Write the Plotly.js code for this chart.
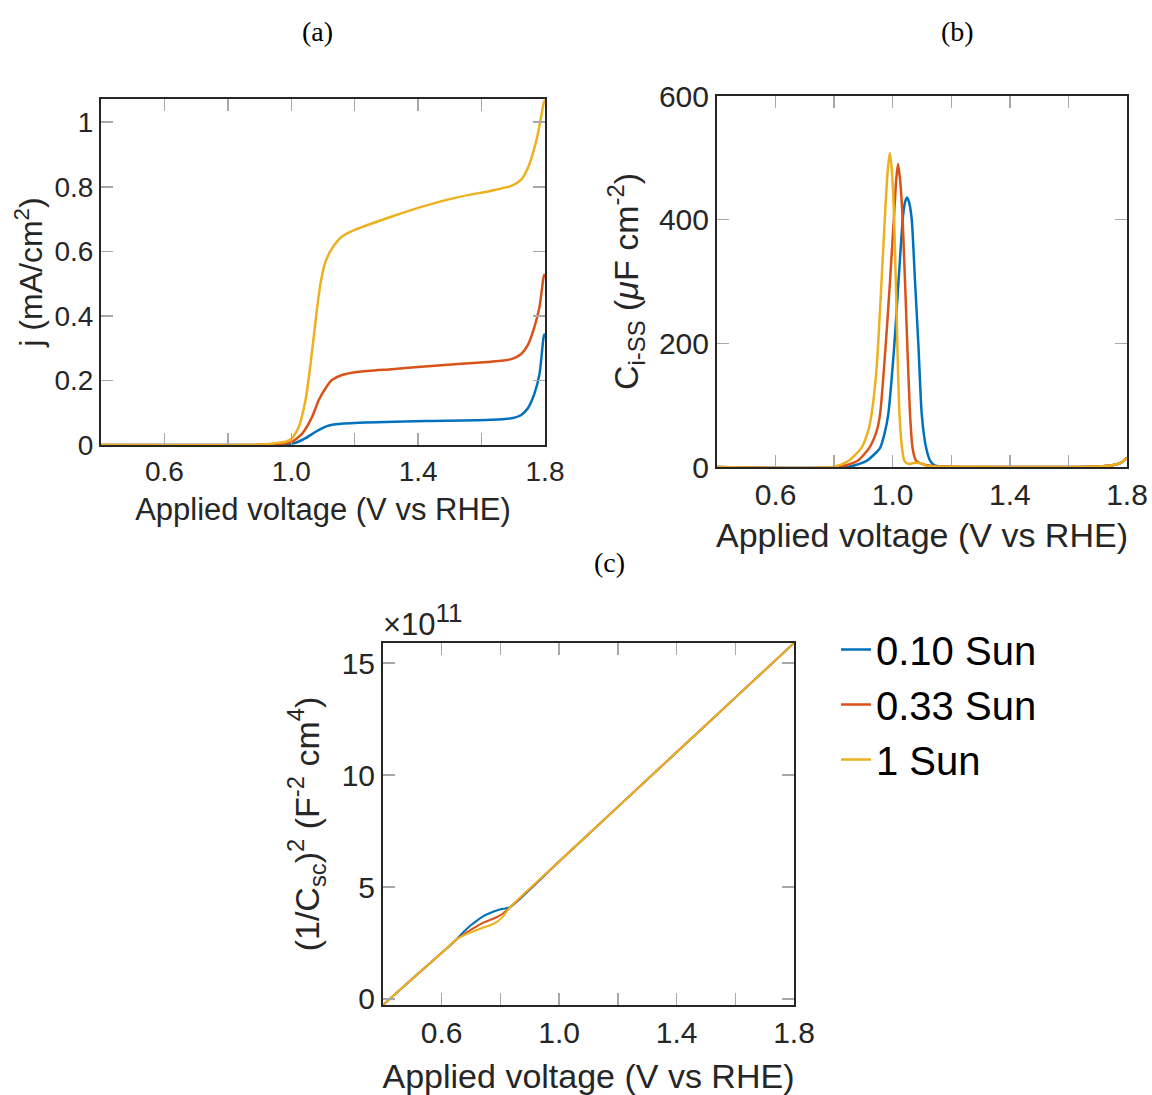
<!DOCTYPE html>
<html><head><meta charset="utf-8">
<script src="https://cdn.plot.ly/plotly-3.0.1.min.js"></script>
<style>body{margin:0;background:#fff;} #plot{width:1152px;height:1095px;}</style>
</head><body><div id="plot"></div>
<script>
// ---- series meta ----
const seriesNames = ['0.10 Sun', '0.33 Sun', '1 Sun'];
const seriesColors = ['#0072BD', '#D95319', '#EDB120'];

// ---- panel (a): j (mA/cm2) vs applied voltage ----
const aX_010 = [0.40, 0.90, 0.98, 1.014, 1.045, 1.077, 1.108, 1.139, 1.213, 1.421, 1.631, 1.694, 1.725, 1.746, 1.767, 1.783, 1.796, 1.80];
const aY_010 = [0.000, 0.000, 0.002, 0.007, 0.021, 0.041, 0.057, 0.064, 0.069, 0.074, 0.078, 0.083, 0.093, 0.114, 0.160, 0.222, 0.336, 0.345];
const aX_033 = [0.40, 0.88, 0.95, 0.98, 1.003, 1.035, 1.066, 1.087, 1.108, 1.129, 1.160, 1.213, 1.317, 1.421, 1.526, 1.631, 1.694, 1.725, 1.746, 1.767, 1.783, 1.796, 1.80];
const aY_033 = [0.000, 0.000, 0.002, 0.005, 0.010, 0.036, 0.088, 0.140, 0.176, 0.202, 0.217, 0.227, 0.235, 0.243, 0.251, 0.258, 0.266, 0.282, 0.310, 0.367, 0.429, 0.522, 0.530];
const aX_1 = [0.40, 0.86, 0.93, 0.962, 0.983, 1.003, 1.024, 1.045, 1.061, 1.077, 1.092, 1.108, 1.129, 1.160, 1.202, 1.317, 1.421, 1.526, 1.631, 1.694, 1.725, 1.746, 1.762, 1.778, 1.788, 1.796, 1.80];
const aY_1 = [0.000, 0.000, 0.003, 0.007, 0.010, 0.021, 0.057, 0.140, 0.253, 0.388, 0.500, 0.568, 0.610, 0.646, 0.667, 0.708, 0.741, 0.768, 0.788, 0.803, 0.822, 0.858, 0.904, 0.966, 1.018, 1.060, 1.070];

// ---- panel (b): C_i-SS (uF cm-2) vs applied voltage ----
const bX_010 = [0.40, 0.85, 0.911, 0.957, 0.974, 0.985, 1.005, 1.020, 1.036, 1.043, 1.049, 1.056, 1.065, 1.076, 1.088, 1.099, 1.114, 1.128, 1.145, 1.20, 1.30, 1.60, 1.70, 1.75, 1.78, 1.80];
const bY_010 = [0, 0.5, 10, 31, 58, 86, 194, 302, 410, 430, 436, 428, 400, 302, 194, 86, 31, 10, 2, 0.2, 0, 0, 1, 3, 7, 15];
const bX_033 = [0.40, 0.82, 0.88, 0.92, 0.945, 0.957, 0.975, 0.991, 1.005, 1.012, 1.018, 1.025, 1.034, 1.050, 1.059, 1.068, 1.080, 1.100, 1.130, 1.20, 1.30, 1.60, 1.70, 1.75, 1.78, 1.80];
const bY_033 = [0, 0.5, 10, 31, 58, 86, 190, 302, 410, 465, 490, 465, 400, 194, 86, 30, 10, 5, 2, 0.3, 0, 0, 1, 3, 7, 15];
const bX_1 = [0.40, 0.80, 0.85, 0.893, 0.916, 0.928, 0.945, 0.962, 0.974, 0.983, 0.990, 0.997, 1.005, 1.016, 1.023, 1.032, 1.040, 1.055, 1.075, 1.095, 1.115, 1.20, 1.60, 1.70, 1.75, 1.78, 1.80];
const bY_1 = [0, 0.5, 10, 31, 58, 86, 160, 302, 410, 480, 508, 480, 400, 194, 86, 30, 10, 5, 7, 6, 2, 0.3, 0, 1, 3, 7, 15];

// ---- panel (c): (1/Csc)^2 in units of 1e11 F^-2 cm^4 ----
const cX = [0.40, 0.50, 0.60, 0.63, 0.651, 0.675, 0.696, 0.720, 0.742, 0.765, 0.787, 0.810, 0.833, 1.00, 1.20, 1.40, 1.60, 1.80];
const cY_010 = [-0.27, 0.90, 2.06, 2.41, 2.67, 3.00, 3.26, 3.50, 3.70, 3.84, 3.95, 4.03, 4.10, 6.14, 8.58, 11.02, 13.46, 15.90];
const cY_033 = [-0.27, 0.90, 2.06, 2.41, 2.67, 2.88, 3.07, 3.25, 3.41, 3.53, 3.65, 3.83, 4.10, 6.14, 8.58, 11.02, 13.46, 15.90];
const cY_1 = [-0.27, 0.90, 2.06, 2.41, 2.67, 2.83, 2.96, 3.08, 3.19, 3.29, 3.43, 3.70, 4.10, 6.14, 8.58, 11.02, 13.46, 15.90];

// ---- tick labels ----
const xTickVals = [0.6, 1.0, 1.4, 1.8];
const xTickText = ['0.6', '1.0', '1.4', '1.8'];
const xMinorVals = [0.8, 1.2, 1.6];
const aYTickVals = [0, 0.2, 0.4, 0.6, 0.8, 1];
const aYTickText = ['0', '0.2', '0.4', '0.6', '0.8', '1'];
const bYTickVals = [0, 200, 400, 600];
const cYTickVals = [0, 5, 10, 15];

const FONT = 'Liberation Sans, Arial, Helvetica, sans-serif';
const SERIF = 'Liberation Serif, Times New Roman, serif';
const TXT = '#262626';
const TICKC = '#a8a8a8';

const panels = [
  {xs: [aX_010, aX_033, aX_1], ys: [aY_010, aY_033, aY_1], xa: 'x', ya: 'y', w: 2.5, legend: true},
  {xs: [bX_010, bX_033, bX_1], ys: [bY_010, bY_033, bY_1], xa: 'x2', ya: 'y2', w: 2.5, legend: false},
  {xs: [cX, cX, cX], ys: [cY_010, cY_033, cY_1], xa: 'x3', ya: 'y3', w: 2, legend: false}
];
const traces = [];
panels.forEach(p => {
  for (let i = 0; i < 3; i++) {
    traces.push({
      x: p.xs[i], y: p.ys[i], xaxis: p.xa, yaxis: p.ya,
      type: 'scatter', mode: 'lines', name: seriesNames[i],
      line: {color: seriesColors[i], width: p.w, shape: 'spline', smoothing: 0.6},
      showlegend: p.legend, hoverinfo: 'skip'
    });
  }
});

function baseAxis(extra, fs) {
  return Object.assign({
    ticks: 'inside', ticklen: 12, tickcolor: TICKC, tickwidth: 1.5,
    showline: true, linecolor: TXT, linewidth: 2, mirror: 'allticks',
    showgrid: false, zeroline: false, automargin: false,
    tickfont: {family: FONT, size: fs, color: TXT}
  }, extra);
}
function xAxis(domain, anchor, fs, tfs, standoff) {
  return baseAxis({domain: domain, anchor: anchor, range: [0.4, 1.8],
    tickmode: 'array', tickvals: xTickVals, ticktext: xTickText,
    minor: {tickmode: 'array', tickvals: xMinorVals, ticks: 'inside', ticklen: 12, tickcolor: TICKC, tickwidth: 1.5, showgrid: false},
    title: {text: 'Applied voltage (V vs RHE)', font: {family: FONT, size: tfs, color: TXT}, standoff: standoff}}, fs);
}

const W = 1152, H = 1095;
const px = v => v / W, py = v => 1 - v / H;

const layout = {
  width: W, height: H,
  margin: {l: 0, r: 0, t: 0, b: 0},
  paper_bgcolor: '#fff', plot_bgcolor: '#fff',
  showlegend: true,
  legend: {x: px(836), y: py(617), xanchor: 'left', yanchor: 'top', bgcolor: 'rgba(0,0,0,0)',
    font: {family: FONT, size: 40, color: '#000'}, itemwidth: 30, tracegroupgap: 0},
  xaxis: xAxis([px(101), px(545)], 'y', 28, 31, 13),
  yaxis: baseAxis({domain: [py(445), py(99)], anchor: 'x', range: [0, 1.072],
    tickmode: 'array', tickvals: aYTickVals, ticktext: aYTickText,
    title: {text: 'j (mA/cm<sup>2</sup>)', font: {family: FONT, size: 32, color: TXT}, standoff: 2}}, 28),
  xaxis2: xAxis([px(717), px(1127)], 'y2', 30, 34, 13),
  yaxis2: baseAxis({domain: [py(467), py(96)], anchor: 'x2', range: [0, 600],
    tickmode: 'array', tickvals: bYTickVals,
    title: {text: 'C<sub>i-SS</sub> (<i>μ</i>F cm<sup>-2</sup>)', font: {family: FONT, size: 34, color: TXT}, standoff: 10}}, 30),
  xaxis3: xAxis([px(383), px(794)], 'y3', 30, 34, 17),
  yaxis3: baseAxis({domain: [py(1005), py(643)], anchor: 'x3', range: [-0.27, 15.9],
    tickmode: 'array', tickvals: cYTickVals,
    title: {text: '(1/C<sub>sc</sub>)<sup>2</sup> (F<sup>-2</sup> cm<sup>4</sup>)', font: {family: FONT, size: 34, color: TXT}, standoff: 12}}, 30),
  annotations: [
    {text: '(a)', x: px(317), y: py(32), xref: 'paper', yref: 'paper', showarrow: false, xanchor: 'center', yanchor: 'middle',
      font: {family: SERIF, size: 28, color: '#000'}},
    {text: '(b)', x: px(957), y: py(32), xref: 'paper', yref: 'paper', showarrow: false, xanchor: 'center', yanchor: 'middle',
      font: {family: SERIF, size: 28, color: '#000'}},
    {text: '(c)', x: px(609), y: py(562), xref: 'paper', yref: 'paper', showarrow: false, xanchor: 'center', yanchor: 'middle',
      font: {family: SERIF, size: 28, color: '#000'}},
    {text: '×10<sup><span style="font-size:26px">11</span></sup>', x: px(381), y: py(620), xref: 'paper', yref: 'paper', showarrow: false, xanchor: 'left', yanchor: 'middle',
      font: {family: FONT, size: 31, color: TXT}}
  ]
};

Plotly.newPlot('plot', traces, layout, {staticPlot: true, displayModeBar: false});
</script>
</body></html>
